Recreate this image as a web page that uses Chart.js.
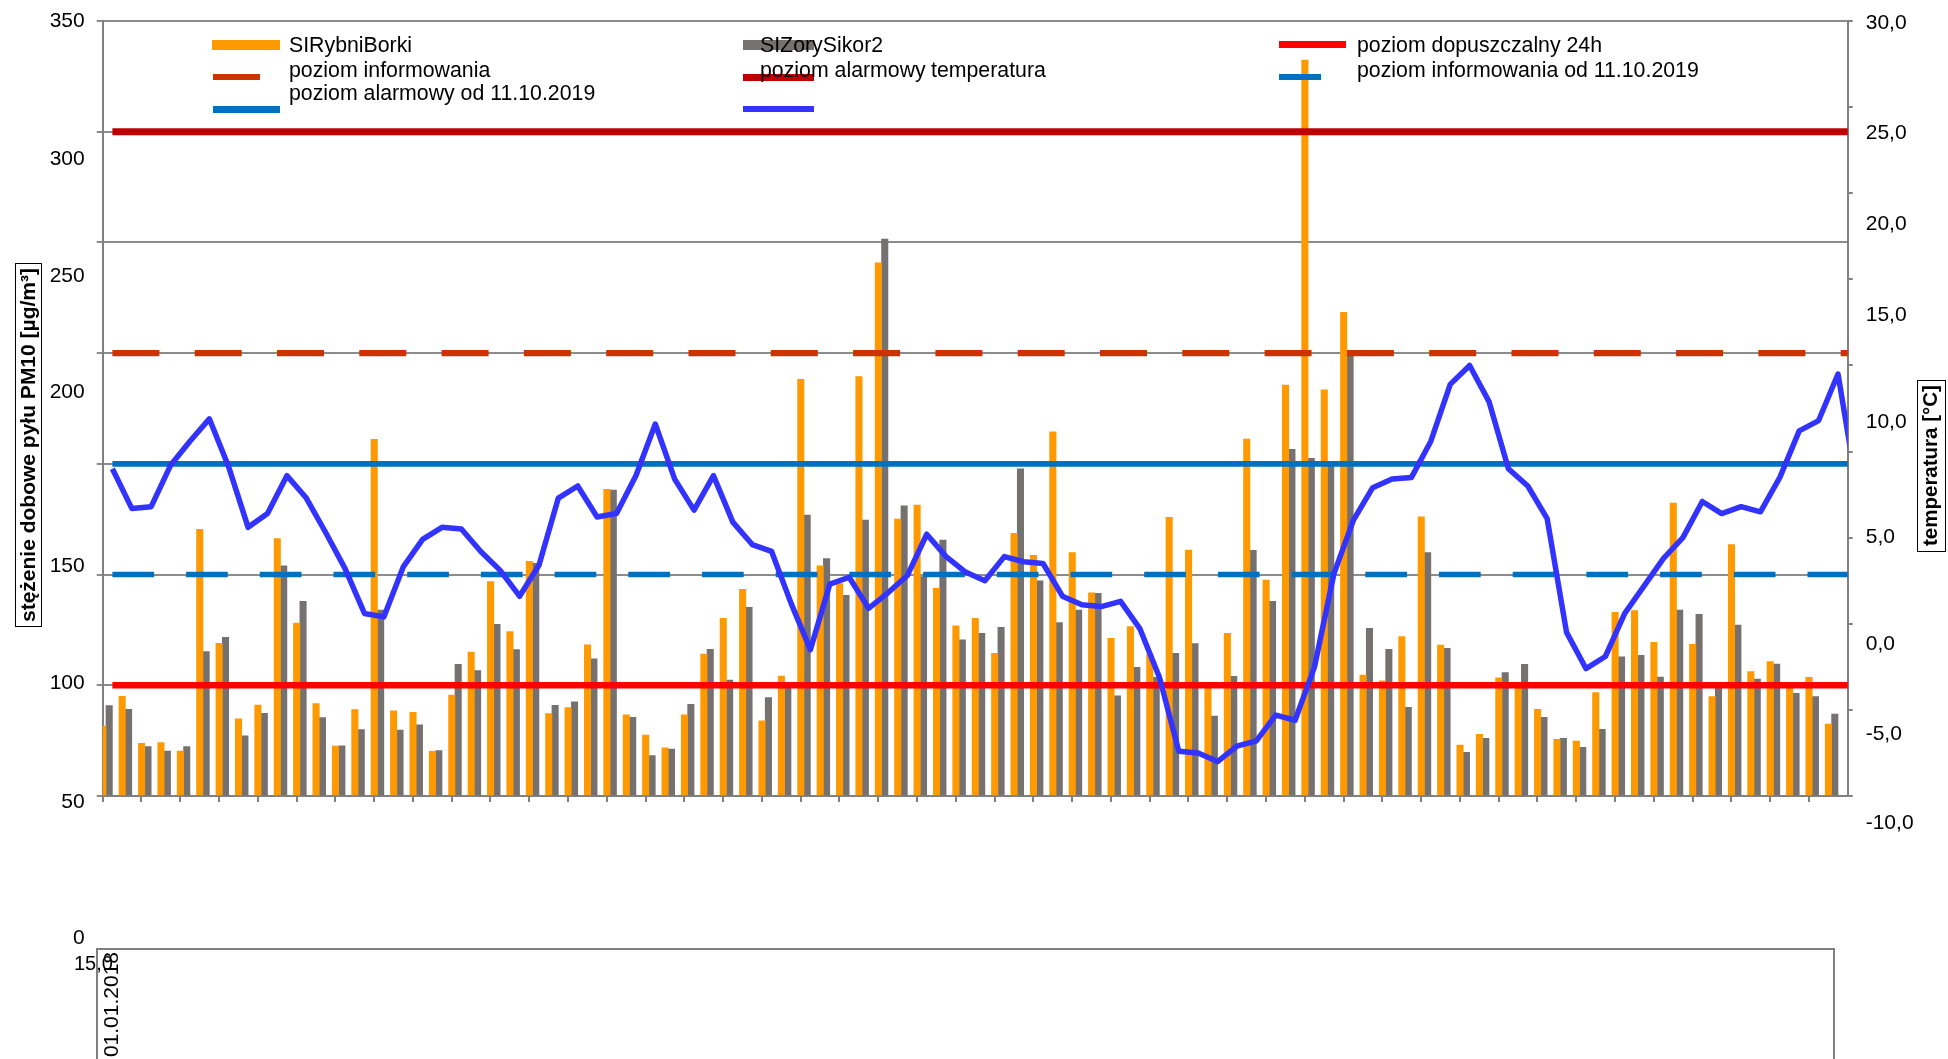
<!DOCTYPE html>
<html lang="pl">
<head>
<meta charset="utf-8">
<title>PM10 SIRybniBorki / SIZorySikor2 - 2018</title>
<script src="https://cdn.jsdelivr.net/npm/chart.js@4/dist/chart.umd.min.js"></script>
<style>
  body { margin: 0; background: #fff; }
  #wrap { position: relative; width: 1948px; height: 1059px; overflow: hidden; font-family: "Liberation Sans", Arial, sans-serif; color: #000; }
  #wykres { position: absolute; left: 0; top: 0; }
  .leg-sym { position: absolute; }
  .leg-txt { position: absolute; font-size: 21.3px; line-height: 21px; white-space: nowrap; }
  .tytul { position: absolute; box-sizing: border-box; border: 1.5px solid #000; font-weight: bold;
           writing-mode: vertical-rl; transform: rotate(180deg); text-align: center; white-space: nowrap; line-height: 24px; }
  #ramka { position: absolute; left: 96px; top: 948px; width: 1735px; height: 200px;
           border: 2px solid #808080; border-bottom: none; }
  #luzna { position: absolute; left: 74px; top: 953px; font-size: 20px; line-height: 20px; }
</style>
</head>
<body>
<div id="wrap">
  <canvas id="wykres" width="1948" height="1059"></canvas>
  <div id="ramka"></div>
  <div id="luzna">15,0</div>
  <div class="tytul" style="left:15px; top:263px; width:27px; height:364px; font-size:21px;">stężenie dobowe pyłu PM10 [µg/m³]</div>
  <div class="tytul" style="left:1917px; top:380px; width:29px; height:172px; font-size:20.5px;">temperatura [°C]</div>
  <div id="legenda"></div>
</div>
<script>
// dni pomiarowe
const dni = [
  '01.01.2018','02.01.2018','03.01.2018','04.01.2018','05.01.2018','06.01.2018','07.01.2018','08.01.2018','09.01.2018','10.01.2018',
  '11.01.2018','12.01.2018','13.01.2018','14.01.2018','15.01.2018','16.01.2018','17.01.2018','18.01.2018','19.01.2018','20.01.2018',
  '21.01.2018','22.01.2018','23.01.2018','24.01.2018','25.01.2018','26.01.2018','27.01.2018','28.01.2018','29.01.2018','30.01.2018',
  '31.01.2018','01.02.2018','02.02.2018','03.02.2018','04.02.2018','05.02.2018','06.02.2018','07.02.2018','08.02.2018','09.02.2018',
  '10.02.2018','11.02.2018','12.02.2018','13.02.2018','14.02.2018','15.02.2018','16.02.2018','17.02.2018','18.02.2018','19.02.2018',
  '20.02.2018','21.02.2018','22.02.2018','23.02.2018','24.02.2018','25.02.2018','26.02.2018','27.02.2018','28.02.2018','01.03.2018',
  '02.03.2018','03.03.2018','04.03.2018','05.03.2018','06.03.2018','07.03.2018','08.03.2018','09.03.2018','10.03.2018','11.03.2018',
  '12.03.2018','13.03.2018','14.03.2018','15.03.2018','16.03.2018','17.03.2018','18.03.2018','19.03.2018','20.03.2018','21.03.2018',
  '22.03.2018','23.03.2018','24.03.2018','25.03.2018','26.03.2018','27.03.2018','28.03.2018','29.03.2018','30.03.2018','31.03.2018'
];

// stężenia dobowe PM10 [µg/m3]
const rybnikBorki = [
  31.6, 45.0, 23.8, 24.1, 20.3, 120.4, 68.9, 34.8, 41.1, 116.2,
  78.1, 41.7, 22.6, 39.0, 161.1, 38.5, 37.8, 20.2, 45.6, 65.0,
  96.8, 74.2, 106.0, 37.2, 39.9, 68.3, 138.5, 36.7, 27.5, 21.8,
  36.7, 64.1, 80.2, 93.3, 34.0, 54.2, 188.2, 103.9, 95.9, 189.4,
  240.8, 125.1, 131.4, 93.8, 76.9, 80.2, 64.4, 118.6, 108.7, 164.5,
  109.9, 91.8, 71.2, 76.5, 64.0, 125.8, 111.1, 49.4, 73.5, 161.2,
  97.5, 185.6, 332.4, 183.4, 218.4, 54.6, 52.0, 72.0, 126.1, 68.2,
  23.0, 27.8, 53.4, 49.4, 39.1, 25.6, 24.8, 46.7, 82.9, 83.7,
  69.4, 132.3, 68.5, 44.9, 113.5, 56.2, 60.7, 48.6, 53.6, 32.5
];
const zorySikor2 = [
  40.8, 39.1, 22.3, 20.3, 22.3, 65.2, 71.7, 27.2, 37.3, 104.0,
  87.9, 35.4, 22.7, 30.0, 84.0, 29.8, 32.1, 20.5, 59.5, 56.6,
  77.5, 66.1, 105.1, 41.0, 42.5, 61.9, 138.2, 35.5, 18.2, 21.2,
  41.4, 66.2, 52.4, 85.2, 44.4, 49.5, 126.9, 107.2, 90.6, 124.6,
  251.5, 131.0, 99.1, 115.6, 70.5, 73.5, 76.2, 147.7, 97.2, 78.3,
  84.0, 91.5, 45.2, 58.1, 53.6, 64.4, 68.8, 36.1, 54.0, 110.9,
  87.9, 156.6, 152.5, 149.0, 199.2, 75.7, 66.2, 40.0, 109.9, 66.7,
  19.7, 26.0, 55.7, 59.5, 35.5, 26.0, 22.0, 30.1, 62.9, 63.5,
  53.7, 84.0, 82.0, 49.4, 77.2, 52.8, 59.6, 46.4, 44.9, 37.0
];

// temperatura średnia dobowa [°C] (ostatni punkt ucięty przez krawędź wykresu)
const temperatura = [
  4.0, 1.7, 1.8, 4.2, 5.6, 6.9, 4.1, 0.6, 1.4, 3.6,
  2.3, 0.3, -1.8, -4.4, -4.6, -1.7, -0.1, 0.6, 0.5, -0.8,
  -1.9, -3.4, -1.6, 2.3, 3.0, 1.2, 1.4, 3.6, 6.6, 3.4,
  1.6, 3.6, 0.9, -0.4, -0.8, -3.8, -6.5, -2.7, -2.3, -4.1,
  -3.2, -2.2, 0.2, -1.1, -2.0, -2.5, -1.1, -1.4, -1.5, -3.4,
  -3.9, -4.0, -3.7, -5.3, -8.1, -12.4, -12.5, -13.0, -12.1, -11.8,
  -10.3, -10.6, -7.5, -2.1, 1.0, 2.9, 3.4, 3.5, 5.6, 8.9,
  10.0, 7.9, 4.0, 3.0, 1.1, -5.5, -7.6, -6.9, -4.4, -2.8,
  -1.2, 0.0, 2.1, 1.4, 1.8, 1.5, 3.5, 6.2, 6.8, 9.5,
  2.7
];

// poziomy normatywne PM10
const dopuszczalny24h = 50;
const informowanie = 200;
const alarm = 300;
const informowanie2019 = 100;
const alarm2019 = 150;

// etykiety osi (rozjechane jak na oryginale)
const etykietyPM = ['350', '300', '250', '200', '150', '100', '50', '0'];
const etykietyTemp = ['30,0', '25,0', '20,0', '15,0', '10,0', '5,0', '0,0', '-5,0', '-10,0'];
const miejscaPM = [349.7, 287.7, 234.9, 182.2, 103.6, 51.0, -2.6, -64.3];
const miejscaTemp = [29.9, 23.5, 18.2, 12.9, 6.7, 0.0, -6.2, -11.4, -16.6];

const font = 'Liberation Sans, Arial, sans-serif';
const szary = '#808080';

const poziom = (wartosc) => [{ x: 0, y: wartosc }, { x: dni.length, y: wartosc }];
const linia = (label, data, color, width, dash, order) => ({
  type: 'line', label, data, xAxisID: 'x2', yAxisID: 'y',
  borderColor: color, backgroundColor: color, borderWidth: width, borderDash: dash,
  pointRadius: 0, tension: 0, fill: false, clip: 0, order
});

const ctx = document.getElementById('wykres').getContext('2d');
const chart = new Chart(ctx, {
  data: {
    labels: dni,
    datasets: [
      { type: 'bar', label: 'SIRybniBorki', data: rybnikBorki, backgroundColor: '#FF9900',
        xAxisID: 'x', yAxisID: 'y', barThickness: 6.4, order: 10 },
      { type: 'bar', label: 'SIZorySikor2', data: zorySikor2, backgroundColor: '#767171',
        xAxisID: 'x', yAxisID: 'y', barThickness: 6.4, order: 10 },
      linia('poziom dopuszczalny 24h', poziom(dopuszczalny24h), '#FF0000', 6.5, [], 5),
      linia('poziom informowania', poziom(informowanie), '#CC3300', 6.3, [47, 35.3], 5),
      linia('poziom alarmowy', poziom(alarm), '#C00000', 7, [], 5),
      linia('poziom informowania od 11.10.2019', poziom(informowanie2019), '#0070C0', 5.5, [41.7, 32], 5),
      linia('poziom alarmowy od 11.10.2019', poziom(alarm2019), '#0070C0', 5.7, [], 5),
      { type: 'line', label: 'temperatura', data: temperatura.map((t, i) => ({ x: i, y: t })),
        xAxisID: 'x2', yAxisID: 'y2', borderColor: '#3333FF', backgroundColor: '#3333FF',
        borderWidth: 5.5, borderJoinStyle: 'round', pointRadius: 0, tension: 0, clip: 0, order: 0 }
    ]
  },
  options: {
    responsive: false,
    devicePixelRatio: 1,
    animation: false,
    events: [],
    layout: { padding: { top: 21, left: 0, right: 0, bottom: 0 } },
    plugins: { legend: { display: false }, tooltip: { enabled: false } },
    scales: {
      x: {
        type: 'category', position: 'bottom', weight: 0, offset: true,
        grid: { display: true, offset: true, drawOnChartArea: false, drawTicks: true, tickLength: 6, lineWidth: 2,
                color: (c) => c.index % 2 === 0 ? szary : 'rgba(0,0,0,0)' },
        border: { display: true, color: szary, width: 2 },
        ticks: { display: false },
        afterFit: (s) => { s.height = 6; }
      },
      xl: {
        type: 'category', position: 'bottom', weight: 1, offset: true,
        grid: { display: false, drawTicks: true, tickLength: 150 },
        border: { display: false },
        ticks: { autoSkip: false, minRotation: 90, maxRotation: 90, padding: 0, color: '#000',
                 font: { family: font, size: 21 }, callback: (v, i) => i === 0 ? dni[0] : '' },
        afterFit: (s) => { s.height = 257; }
      },
      x2: { type: 'linear', display: false, min: -0.5, max: dni.length - 0.5 },
      y: {
        type: 'linear', position: 'left', weight: 0, min: 0, max: 350,
        ticks: { stepSize: 50, display: false },
        grid: { color: '#8c8c8c', lineWidth: 2, drawTicks: true, tickLength: 6 },
        border: { color: szary, width: 2 },
        afterFit: (s) => { s.width = 6; }
      },
      yl: {
        type: 'linear', position: 'left', weight: 1, min: 0, max: 350,
        grid: { display: false, drawTicks: true, tickLength: 12 }, border: { display: false },
        ticks: { autoSkip: false, padding: 0, color: '#000', font: { family: font, size: 21 },
                 callback: (v, i) => etykietyPM[i] },
        afterBuildTicks: (s) => { s.ticks = miejscaPM.map((v) => ({ value: v })); },
        afterFit: (s) => { s.width = 96.7; }
      },
      y2: {
        type: 'linear', position: 'right', weight: 0, min: -15, max: 30,
        ticks: { stepSize: 5, display: false },
        grid: { drawOnChartArea: false, color: szary, lineWidth: 2, drawTicks: true, tickLength: 5 },
        border: { color: szary, width: 2 },
        afterFit: (s) => { s.width = 5; }
      },
      y2l: {
        type: 'linear', position: 'right', weight: 1, min: -15, max: 30,
        grid: { display: false, drawTicks: true, tickLength: 13 }, border: { display: false },
        ticks: { autoSkip: false, padding: 0, color: '#000', font: { family: font, size: 21 },
                 callback: (v, i) => etykietyTemp[i] },
        afterBuildTicks: (s) => { s.ticks = miejscaTemp.map((v) => ({ value: v })); },
        afterFit: (s) => { s.width = 95.3; }
      }
    }
  }
});

// legenda - rozmieszczenie jak na oryginale (symbole przesunięte względem opisów)
const ukladLegendy = {
  'SIRybniBorki':                      { sym: [212, 40, 68, 10],   txt: [289, 45] },
  'SIZorySikor2':                      { sym: [743, 40, 71, 10],   txt: [760, 45] },
  'poziom dopuszczalny 24h':           { sym: [1279, 41, 67, 6.5], txt: [1357, 45] },
  'poziom informowania':               { sym: [213, 74, 47, 6.3],  txt: [289, 70] },
  'poziom alarmowy':                   { sym: [743, 73.5, 71, 7],  txt: [760, 70] },
  'poziom informowania od 11.10.2019': { sym: [1279, 74, 42, 5.5], txt: [1357, 70] },
  'poziom alarmowy od 11.10.2019':     { sym: [213, 106, 67, 6.5], txt: [289, 93] },
  'temperatura':                       { sym: [743, 106, 71, 5.5], txt: [931, 70] }
};
const legenda = document.getElementById('legenda');
chart.data.datasets.forEach((ds) => {
  const u = ukladLegendy[ds.label];
  const sym = document.createElement('div');
  sym.className = 'leg-sym';
  sym.style.cssText = `left:${u.sym[0]}px;top:${u.sym[1]}px;width:${u.sym[2]}px;height:${u.sym[3]}px;background:${ds.backgroundColor};`;
  legenda.appendChild(sym);
});
chart.data.datasets.forEach((ds) => {
  const u = ukladLegendy[ds.label];
  const txt = document.createElement('div');
  txt.className = 'leg-txt';
  txt.style.left = u.txt[0] + 'px';
  txt.style.top = (u.txt[1] - 10.5) + 'px';
  txt.textContent = ds.label;
  legenda.appendChild(txt);
});
</script>
</body>
</html>
